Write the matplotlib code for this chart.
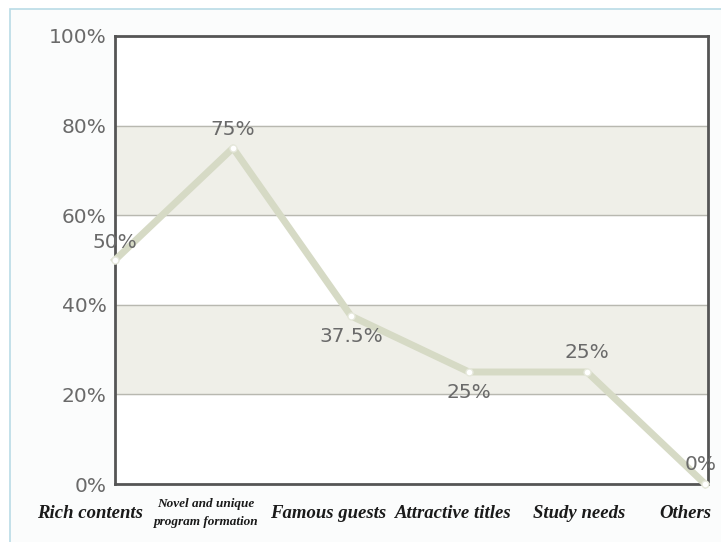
import matplotlib.pyplot as plt
from matplotlib.patches import Rectangle

# reasons for liking the program, share of respondents (%)
categories = ["Rich contents", "Novel and unique\nprogram formation", "Famous guests",
              "Attractive titles", "Study needs", "Others"]
values = [50, 75, 37.5, 25, 25, 0]
value_labels = ["50%", "75%", "37.5%", "25%", "25%", "0%"]
yticks = [0, 20, 40, 60, 80, 100]

W, H = 721, 542
fig = plt.figure(figsize=(W / 100, H / 100), dpi=100)
fig.patch.set_facecolor("white")

# thin blue frame around the panel
fig.patches.append(Rectangle((10 / W, -0.1), 1.2, 1.1 - 9 / H, transform=fig.transFigure,
                             facecolor="#fbfcfc", edgecolor="#b9dbe6", lw=1.2, zorder=-1))

ax = fig.add_axes([115 / W, 1 - 484 / H, (708 - 115) / W, (484 - 36) / H])
ax.set_facecolor("white")
ax.set_xlim(0, len(categories) - 1 + 0.025)
ax.set_ylim(0, 100)

# alternating bands
for lo in (20, 60):
    ax.axhspan(lo, lo + 20, color="#efefe8", zorder=0)
for y in (20, 40, 60, 80):
    ax.axhline(y, color="#b8b8b0", lw=1, zorder=1)

x = list(range(len(categories)))
ax.plot(x, values, color="#d6dac5", lw=5, solid_joinstyle="round", zorder=3, clip_on=False)
ax.plot(x, values, "o", ms=5, mfc="white", mec="#e6e8dc", mew=1, zorder=4, clip_on=False)

# value labels: (dx, dy) in pixels
offsets = [(0, 17), (0, 18), (0, -20), (0, -20), (0, 19), (-4, 19)]
for xi, v, lab, (dx, dy) in zip(x, values, value_labels, offsets):
    ax.annotate(lab, (xi, v), xytext=(dx, dy), textcoords="offset pixels",
                ha="center", va="center", fontsize=14.5, color="#6a6a6a", zorder=5,
                annotation_clip=False)

for s in ax.spines.values():
    s.set_color("#555555")
    s.set_linewidth(2)

ax.set_yticks(yticks)
ax.set_yticklabels([f"{t}%" for t in yticks], fontsize=14.5, color="#6a6a6a")
ax.tick_params(axis="y", length=0, pad=6)
ax.set_xticks(x)
ax.set_xticklabels([])
ax.tick_params(axis="x", length=0)

# category names sit a little left of their points
name_dx = [-25, -27, -23, -16, -8, -20]
for xi, cat, dx in zip(x, categories, name_dx):
    small = "\n" in cat
    ax.annotate(cat, (xi, 0), xytext=(dx, -29), textcoords="offset pixels",
                ha="center", va="center", family="Liberation Serif", style="italic",
                weight="bold", fontsize=9.5 if small else 13.5, color="#1a1a1a",
                linespacing=1.6, annotation_clip=False)

fig.savefig("out.png", dpi=100)
